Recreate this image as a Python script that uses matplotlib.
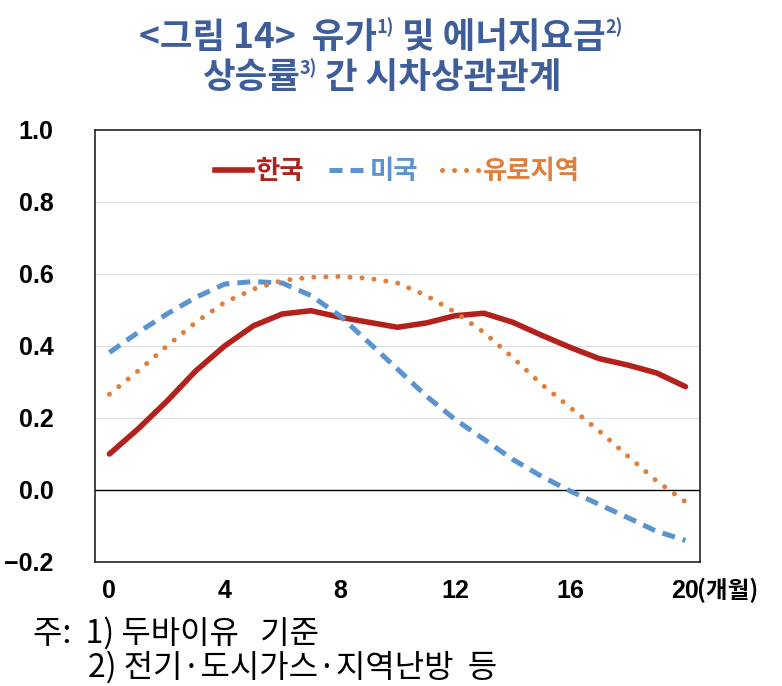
import matplotlib
matplotlib.use('Agg')
import matplotlib.pyplot as plt
from matplotlib.lines import Line2D

plt.rcParams['font.family'] = ['Noto Sans CJK KR', 'DejaVu Sans']

# 시차(개월)
months = list(range(21))
korea = [0.10, 0.17, 0.247, 0.331, 0.40, 0.456, 0.489, 0.498, 0.48, 0.466, 0.452,
         0.464, 0.484, 0.491, 0.466, 0.43, 0.396, 0.365, 0.347, 0.325, 0.287]
usa = [0.382, 0.438, 0.489, 0.535, 0.572, 0.579, 0.575, 0.54, 0.484, 0.41, 0.336,
       0.261, 0.196, 0.141, 0.085, 0.038, -0.003, -0.04, -0.077, -0.115, -0.14]
euro = [0.266, 0.331, 0.40, 0.466, 0.521, 0.558, 0.582, 0.591, 0.593, 0.588, 0.575,
        0.54, 0.494, 0.438, 0.368, 0.294, 0.229, 0.164, 0.094, 0.025, -0.033]
series_names = ['한국', '미국', '유로지역']
xticks = [0, 4, 8, 12, 16, 20]
yticks = [-0.2, 0.0, 0.2, 0.4, 0.6, 0.8, 1.0]

red = '#B3211D'
blue = '#5B93D1'
orange = '#E07E3C'
title_color = '#3D5E9A'
dash_style = (0, (2.6, 1.6))
dot_style = (0, (0.01, 2.4))

fig = plt.figure(figsize=(7.82, 6.86), dpi=100)
ax = fig.add_axes([0.1215, 0.1808, 0.7735, 0.6297])

ax.plot(months, korea, color=red, lw=4.0, solid_capstyle='round', solid_joinstyle='round', zorder=3)
ax.plot(months, usa, color=blue, lw=3.6, linestyle=dash_style, dash_capstyle='butt', zorder=3)
ax.plot(months, euro, color=orange, lw=3.6, linestyle=dot_style, dash_capstyle='round', zorder=3)

ax.set_xlim(-0.5, 20.5)
ax.set_ylim(-0.2, 1.0)
ax.set_yticks(yticks)
ax.set_yticklabels([f'{v:.1f}'.replace('-', '\u2212') for v in yticks],
                   family=['Liberation Sans', 'DejaVu Sans'], fontsize=18, fontweight='bold')
ax.set_xticks(xticks)
ax.set_xticklabels([str(v) for v in xticks],
                   family=['Liberation Sans Narrow', 'Liberation Sans'], fontsize=18, fontweight='bold')
ax.tick_params(axis='both', length=0)
ax.tick_params(axis='y', pad=30)
ax.tick_params(axis='x', pad=12)
for v in [0.2, 0.4, 0.6, 0.8]:
    ax.axhline(v, color='#DDDDDD', lw=0.8, zorder=0)
ax.axhline(0, color='black', lw=1.0, zorder=1)
for s in ax.spines.values():
    s.set_color('#222222')
    s.set_linewidth(1.2)

fig.text(0.891, 0.139, '(개월)', fontsize=17, fontweight='bold', ha='left', va='center')

handles = [Line2D([], [], color=red, lw=4.0),
           Line2D([], [], color=blue, lw=3.6, linestyle=dash_style),
           Line2D([], [], color=orange, lw=3.6, linestyle=dot_style, dash_capstyle='round')]
leg = ax.legend(handles, series_names, loc='upper center', bbox_to_anchor=(0.5, 0.99),
                ncol=3, frameon=False, handlelength=1.4, handletextpad=0.15,
                columnspacing=0.9, prop={'size': 19, 'weight': 'bold'})
for t, c in zip(leg.get_texts(), [red, blue, orange]):
    t.set_color(c)

# title with superscripts
renderer = fig.canvas.get_renderer()


def place_line(pieces, y, cx):
    objs = []
    for txt, size, dy in pieces:
        objs.append(fig.text(0, y + dy, txt, fontsize=size, fontweight='bold',
                             color=title_color, ha='left', va='center'))
    widths = [o.get_window_extent(renderer).width / fig.bbox.width for o in objs]
    x = cx - sum(widths) / 2
    for o, w in zip(objs, widths):
        o.set_x(x)
        x += w


big = 25.5
small = 13
place_line([('<그림 14>  유가', big, 0), ('1)', small, 0.014),
            (' 및 에너지요금', big, 0), ('2)', small, 0.014)], 0.946, 0.487)
place_line([('상승률', big, 0), ('3)', small, 0.014),
            (' 간 시차상관관계', big, 0)], 0.887, 0.488)

fig.text(0.042, 0.077, '주:  1) 두바이유   기준', fontsize=23, ha='left', va='center')
fig.text(0.113, 0.027, '2) 전기·도시가스·지역난방  등', fontsize=23, ha='left', va='center')

fig.savefig('out.png', dpi=100)
